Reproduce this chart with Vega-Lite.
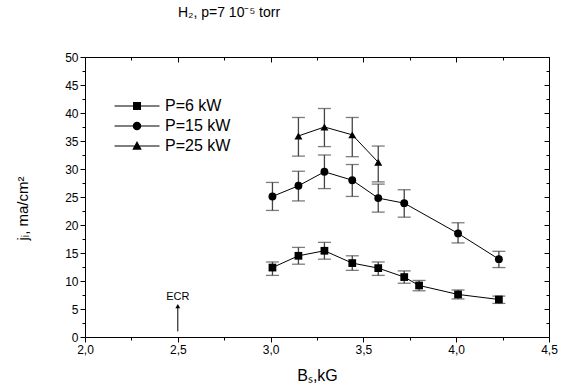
{
  "$schema": "https://vega.github.io/schema/vega-lite/v6.json",
  "width": 464,
  "height": 280,
  "autosize": "none",
  "padding": {"left": 85, "top": 57, "right": 18, "bottom": 55},
  "background": "white",
  "title": {
    "text": "H₂, p=7 10⁻⁵ torr",
    "anchor": "middle",
    "dx": -88,
    "offset": 31,
    "font": "Liberation Sans",
    "fontSize": 14,
    "fontWeight": "normal",
    "color": "black"
  },
  "config": {
    "view": {"stroke": null},
    "axis": {
      "grid": false,
      "domainColor": "black",
      "domainWidth": 1,
      "tickColor": "black",
      "tickWidth": 1,
      "labelFont": "Liberation Sans",
      "labelFontSize": 12,
      "labelColor": "black",
      "titleFont": "Liberation Sans",
      "titleFontSize": 16,
      "titleFontWeight": "normal",
      "titleColor": "black"
    }
  },
  "datasets": {
    "pts": [
      {"series": "P=6 kW", "B": 3.01, "j": 12.4, "lo": 11.0, "hi": 13.4},
      {"series": "P=6 kW", "B": 3.15, "j": 14.5, "lo": 13.0, "hi": 16.0},
      {"series": "P=6 kW", "B": 3.29, "j": 15.4, "lo": 13.9, "hi": 16.9},
      {"series": "P=6 kW", "B": 3.44, "j": 13.2, "lo": 11.9, "hi": 14.5},
      {"series": "P=6 kW", "B": 3.58, "j": 12.3, "lo": 11.0, "hi": 13.4},
      {"series": "P=6 kW", "B": 3.72, "j": 10.7, "lo": 9.6, "hi": 11.8},
      {"series": "P=6 kW", "B": 3.8, "j": 9.2, "lo": 8.25, "hi": 10.1},
      {"series": "P=6 kW", "B": 4.01, "j": 7.6, "lo": 6.8, "hi": 8.4},
      {"series": "P=6 kW", "B": 4.23, "j": 6.7, "lo": 6.0, "hi": 7.3},
      {"series": "P=15 kW", "B": 3.01, "j": 25.1, "lo": 22.6, "hi": 27.6},
      {"series": "P=15 kW", "B": 3.15, "j": 27.0, "lo": 24.3, "hi": 29.6},
      {"series": "P=15 kW", "B": 3.29, "j": 29.5, "lo": 26.5, "hi": 32.5},
      {"series": "P=15 kW", "B": 3.44, "j": 28.0, "lo": 25.1, "hi": 30.8},
      {"series": "P=15 kW", "B": 3.58, "j": 24.8, "lo": 22.3, "hi": 27.3},
      {"series": "P=15 kW", "B": 3.72, "j": 23.9, "lo": 21.4, "hi": 26.3},
      {"series": "P=15 kW", "B": 4.01, "j": 18.5, "lo": 16.8, "hi": 20.4},
      {"series": "P=15 kW", "B": 4.23, "j": 13.9, "lo": 12.4, "hi": 15.3},
      {"series": "P=25 kW", "B": 3.15, "j": 35.9, "lo": 32.3, "hi": 39.2},
      {"series": "P=25 kW", "B": 3.29, "j": 37.5, "lo": 34.0, "hi": 40.8},
      {"series": "P=25 kW", "B": 3.44, "j": 36.1, "lo": 32.2, "hi": 39.2},
      {"series": "P=25 kW", "B": 3.58, "j": 31.2, "lo": 27.7, "hi": 34.1}
    ],
    "ecr": [
      {"B": 2.5, "from": 1.0, "to": 5.5, "label": "ECR", "labelAt": 7.1}
    ]
  },
  "resolve": {"axis": {"x": "independent", "y": "independent"}, "scale": {"shape": "independent"}},
  "layer": [
    {
      "data": {"name": "pts"},
      "mark": {"type": "rule", "color": "#444", "strokeWidth": 1.3},
      "encoding": {
        "x": {
          "field": "B", "type": "quantitative",
          "scale": {"domain": [2, 4.5], "nice": false, "zero": false},
          "axis": {
            "orient": "bottom",
            "values": [2, 2.25, 2.5, 2.75, 3, 3.25, 3.5, 3.75, 4, 4.25, 4.5],
            "labelExpr": "datum.value % 0.5 === 0 ? replace(format(datum.value, '.1f'), '.', ',') : ''",
            "tickSize": {"condition": {"test": "datum.value % 0.5 !== 0", "value": 3}, "value": 5},
            "labelPadding": 2,
            "labelFlush": false,
            "title": "Bₛ,kG",
            "titlePadding": 12
          }
        },
        "y": {
          "field": "lo", "type": "quantitative",
          "scale": {"domain": [0, 50], "nice": false, "zero": false},
          "axis": {
            "orient": "left",
            "values": [0, 2.5, 5, 7.5, 10, 12.5, 15, 17.5, 20, 22.5, 25, 27.5, 30, 32.5, 35, 37.5, 40, 42.5, 45, 47.5, 50],
            "labelExpr": "datum.value % 5 === 0 ? datum.label : ''",
            "tickSize": {"condition": {"test": "datum.value % 5 !== 0", "value": 3}, "value": 5},
            "labelPadding": 2,
            "labelFlush": false,
            "title": "jᵢ, ma/cm²",
            "titleFontSize": 15,
            "titlePadding": 34,
            "titleY": 151
          }
        },
        "y2": {"field": "hi"}
      }
    },
    {
      "data": {"name": "pts"},
      "mark": {"type": "tick", "orient": "horizontal", "color": "#444", "size": 13, "thickness": 1.3},
      "encoding": {
        "x": {"field": "B", "type": "quantitative", "axis": null},
        "y": {"field": "lo", "type": "quantitative", "axis": null}
      }
    },
    {
      "data": {"name": "pts"},
      "mark": {"type": "tick", "orient": "horizontal", "color": "#444", "size": 13, "thickness": 1.3},
      "encoding": {
        "x": {"field": "B", "type": "quantitative", "axis": null},
        "y": {"field": "hi", "type": "quantitative", "axis": null}
      }
    },
    {
      "data": {"name": "pts"},
      "mark": {"type": "line", "color": "black", "strokeWidth": 1},
      "encoding": {
        "x": {
          "field": "B", "type": "quantitative",
          "axis": {
            "orient": "top",
            "values": [2, 2.25, 2.5, 2.75, 3, 3.25, 3.5, 3.75, 4, 4.25, 4.5],
            "labels": false,
            "tickSize": {"condition": {"test": "datum.value % 0.5 !== 0", "value": -3}, "value": -5},
            "title": null
          }
        },
        "y": {
          "field": "j", "type": "quantitative",
          "axis": {
            "orient": "right",
            "values": [0, 2.5, 5, 7.5, 10, 12.5, 15, 17.5, 20, 22.5, 25, 27.5, 30, 32.5, 35, 37.5, 40, 42.5, 45, 47.5, 50],
            "labels": false,
            "tickSize": {"condition": {"test": "datum.value % 5 !== 0", "value": -3}, "value": -5},
            "title": null
          }
        },
        "detail": {"field": "series"}
      }
    },
    {
      "data": {"name": "pts"},
      "mark": {"type": "point", "filled": true, "color": "black", "opacity": 1},
      "encoding": {
        "x": {"field": "B", "type": "quantitative", "axis": null},
        "y": {"field": "j", "type": "quantitative", "axis": null},
        "shape": {
          "field": "series", "type": "nominal",
          "scale": {"domain": ["P=6 kW", "P=15 kW", "P=25 kW"], "range": ["square", "circle", "triangle-up"]},
          "legend": null
        },
        "size": {
          "field": "series", "type": "nominal",
          "scale": {"domain": ["P=6 kW", "P=15 kW", "P=25 kW"], "range": [60, 64, 95]},
          "legend": null
        }
      }
    },
    {
      "data": {"name": "pts"},
      "transform": [{"filter": "false"}],
      "mark": {"type": "point", "filled": true, "color": "black", "opacity": 1},
      "encoding": {
        "x": {"field": "B", "type": "quantitative", "axis": null},
        "y": {"field": "j", "type": "quantitative", "axis": null},
        "shape": {
          "field": "series", "type": "nominal",
          "scale": {
            "domain": ["P=6 kW", "P=15 kW", "P=25 kW"],
            "range": [
              "M-4.5,-0.1H4.5V0.1H-4.5ZM-0.8,-0.8H0.8V0.8H-0.8Z",
              "M-4.5,-0.1H4.5V0.1H-4.5ZM0.85,0A0.85,0.85,0,1,1,-0.85,0A0.85,0.85,0,1,1,0.85,0Z",
              "M-4.5,-0.1H4.5V0.1H-4.5ZM0,-1L0.95,0.75H-0.95Z"
            ]
          },
          "legend": {
            "orient": "none",
            "legendX": 44,
            "legendY": 41,
            "title": null,
            "padding": 0,
            "labelFont": "Liberation Sans",
            "labelFontSize": 16,
            "labelColor": "black",
            "labelOffset": 20,
            "symbolSize": 100,
            "symbolStrokeWidth": 0,
            "symbolFillColor": "black",
            "symbolOpacity": 1,
            "rowPadding": 4
          }
        }
      }
    },
    {
      "data": {"name": "ecr"},
      "mark": {"type": "rule", "color": "black", "strokeWidth": 1},
      "encoding": {
        "x": {"field": "B", "type": "quantitative", "axis": null},
        "y": {"field": "from", "type": "quantitative", "axis": null},
        "y2": {"field": "to"}
      }
    },
    {
      "data": {"name": "ecr"},
      "mark": {"type": "point", "shape": "triangle-up", "filled": true, "color": "black", "opacity": 1, "size": 24},
      "encoding": {
        "x": {"field": "B", "type": "quantitative", "axis": null},
        "y": {"field": "to", "type": "quantitative", "axis": null}
      }
    },
    {
      "data": {"name": "ecr"},
      "mark": {"type": "text", "font": "Liberation Sans", "fontSize": 11, "color": "black", "baseline": "middle", "align": "center"},
      "encoding": {
        "x": {"field": "B", "type": "quantitative", "axis": null},
        "y": {"field": "labelAt", "type": "quantitative", "axis": null},
        "text": {"field": "label"}
      }
    }
  ]
}
